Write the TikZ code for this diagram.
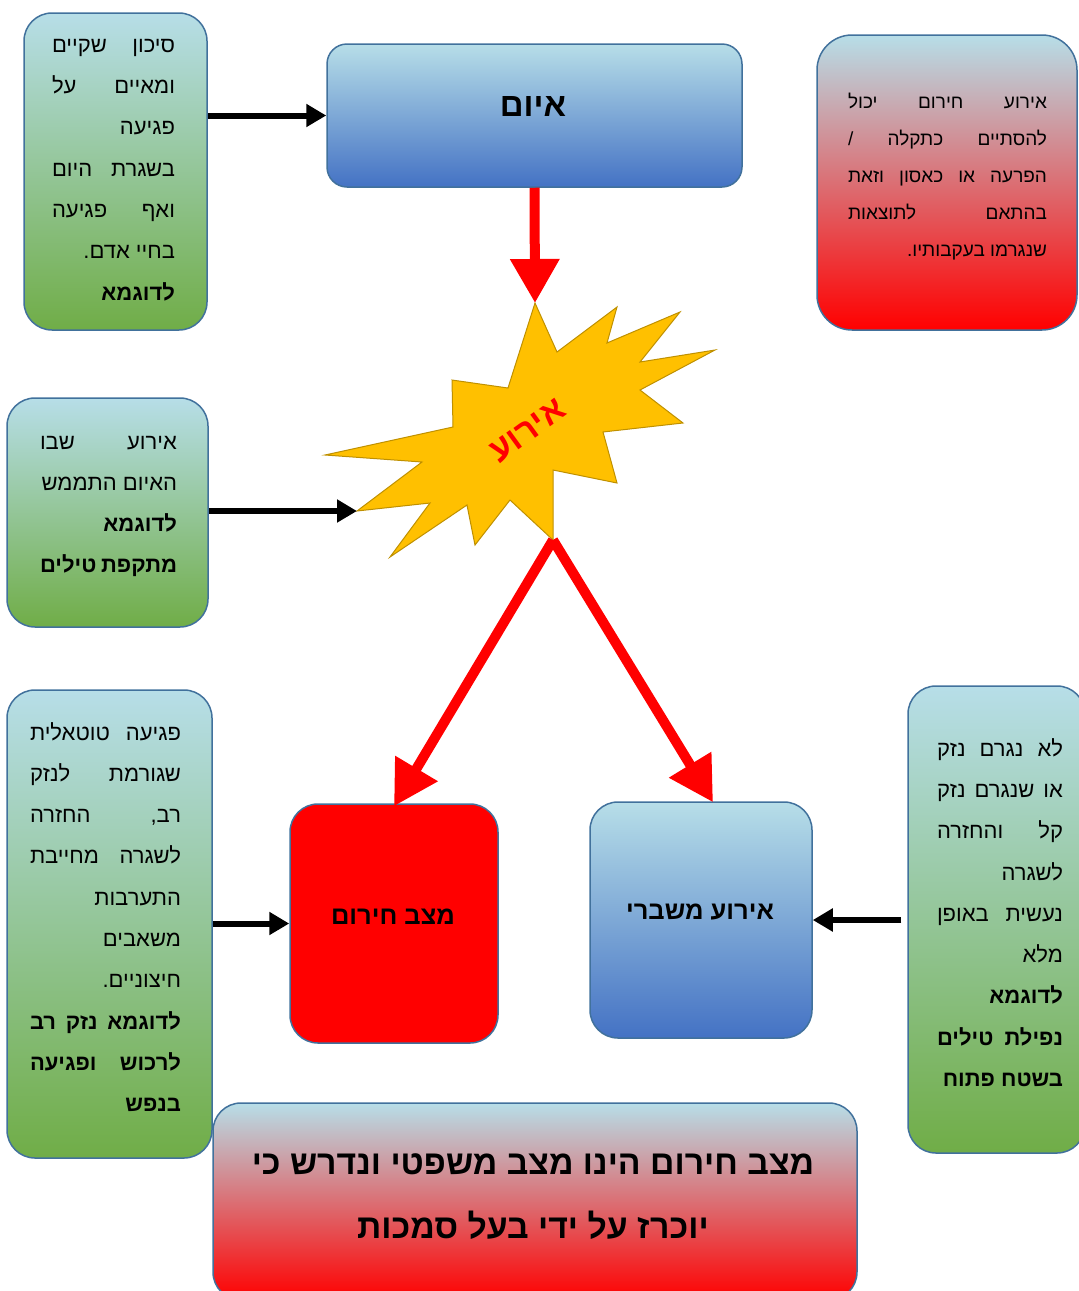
\documentclass[tikz,border=0pt]{standalone}
\usepackage{fontspec}
\usetikzlibrary{arrows.meta}
\TeXXeTstate=1
\newfontfamily\heb[Script=Hebrew]{Liberation Sans}
\newdimen\bw
\newcommand\hl[1]{\hbox to \bw{\hfil\beginR #1\endR}}
\definecolor{lb}{HTML}{B7DEE8}
\definecolor{gr}{HTML}{70AD47}
\definecolor{bl}{HTML}{4472C4}
\definecolor{bd}{HTML}{41719C}
\definecolor{st}{HTML}{FFC000}
\definecolor{stb}{HTML}{BF9000}
\begin{document}
\begin{tikzpicture}[x=1pt,y=-1pt,
  box/.style={draw=bd, line width=1.5pt, rounded corners=28pt, inner sep=0pt},
  gbox/.style={box, top color=lb, bottom color=gr},
  bbox/.style={box, top color=lb, bottom color=bl},
  rbox/.style={box, top color=lb, bottom color=red},
  txt/.style={font=\heb\fontsize{22}{41.3}\selectfont, inner sep=0pt},
  stxt/.style={font=\heb\fontsize{19}{37}\selectfont, inner sep=0pt},
  barrow/.style={line width=6pt, -{Triangle[length=20pt,width=22pt]}},
  rarrow/.style={red, line width=10pt, -{Triangle[length=44pt,width=47pt]}},
  title/.style={font=\heb\bfseries\fontsize{25.5}{30}\selectfont, inner sep=0pt}
]
\useasboundingbox (0,0) rectangle (1079,1291);

% boxes
\node[gbox, minimum width=183pt, minimum height=317pt] (tl) at (115.5,171.5) {};
\node[bbox, rounded corners=20pt, minimum width=415pt, minimum height=143pt] (threat) at (534.5,115.5) {};
\node[rbox, rounded corners=35pt, minimum width=260pt, minimum height=295pt] (tr) at (947,182.5) {};
\node[gbox, minimum width=201pt, minimum height=229pt] (ml) at (107.5,512.5) {};
\node[gbox, minimum width=205pt, minimum height=468pt] (bl) at (109.5,924) {};
\node[gbox, minimum width=177pt, minimum height=467pt] (br) at (996.5,919.5) {};
\node[box, fill=red, minimum width=208pt, minimum height=239pt] (emerg) at (394,923.5) {};
\node[bbox, minimum width=222pt, minimum height=236pt] (crisis) at (701,920) {};
\node[rbox, minimum width=644pt, minimum height=197pt] (bottom) at (535,1201.5) {};

% texts
\node[font=\heb\bfseries\fontsize{33}{36}\selectfont, inner sep=0pt] (threattext) at (533,106)
  {\beginR איום\endR};
\node[title] (emergtext) at (393,917) {\beginR מצב חירום\endR};
\node[title] (crisistext) at (700,912) {\beginR אירוע משברי\endR};
\node[txt] (tltext) at (113.5,170) {\vbox{\bw=123pt
  \hl{סיכון\hfill שקיים}
  \hl{ומאיים\hfill על}
  \hl{פגיעה}
  \hl{בשגרת\hfill היום}
  \hl{ואף\hfill פגיעה}
  \hl{בחיי אדם.}
  \hl{\bfseries לדוגמא}}};
\node[stxt] (trtext) at (947.5,177) {\vbox{\bw=199pt
  \hl{אירוע\hfill חירום\hfill יכול}
  \hl{להסתיים\hfill כתקלה\hfill /}
  \hl{הפרעה\hfill או\hfill כאסון\hfill וזאת}
  \hl{בהתאם\hfill לתוצאות}
  \hl{שנגרמו בעקבותיו.}}};
\node[txt] (mltext) at (108.5,506.5) {\vbox{\bw=137pt
  \hl{אירוע\hfill שבו}
  \hl{האיום התממש}
  \hl{\bfseries לדוגמא}
  \hl{\bfseries מתקפת טילים}}};
\node[txt] (bltext) at (105.5,917) {\vbox{\bw=151pt
  \hl{פגיעה\hfill טוטאלית}
  \hl{שגורמת\hfill לנזק}
  \hl{רב,\hfill החזרה}
  \hl{לשגרה\hfill מחייבת}
  \hl{התערבות}
  \hl{משאבים}
  \hl{חיצוניים.}
  \hl{\bfseries לדוגמא\hfill נזק\hfill רב}
  \hl{\bfseries לרכוש\hfill ופגיעה}
  \hl{\bfseries בנפש}}};
\node[txt] (brtext) at (1000,912.5) {\vbox{\bw=126pt
  \hl{לא\hfill נגרם\hfill נזק}
  \hl{או\hfill שנגרם\hfill נזק}
  \hl{קל\hfill והחזרה}
  \hl{לשגרה}
  \hl{נעשית\hfill באופן}
  \hl{מלא}
  \hl{\bfseries לדוגמא}
  \hl{\bfseries נפילת\hfill טילים}
  \hl{\bfseries בשטח פתוח}}};
\node[font=\heb\bfseries\fontsize{33.8}{64}\selectfont, align=center, inner sep=0pt] (bottomtext) at (533,1197)
  {\beginR מצב חירום הינו מצב משפטי ונדרש כי\endR\\ \beginR יוכרז על ידי בעל סמכות\endR};

% starburst
\coordinate (s1) at (535,303);
\coordinate (s13) at (553,540);
\coordinate (s19) at (357,511);
\filldraw[fill=st, draw=stb, line width=1pt, line join=miter]
  (s1) -- (557,352) -- (617,307) -- (607,343) -- (680,312) -- (640,362) -- (715,350)
  -- (640,390) -- (683,423) -- (603,432) -- (617,483) -- (553,470) -- (s13)
  -- (510,500) -- (475,545) -- (467,505) -- (390,557) -- (430,503) -- (s19)
  -- (422,462) -- (325,455) -- (453,427) -- (452,380) -- (508,388) -- cycle;
\node[rotate=36, text=red, font=\heb\bfseries\fontsize{34}{36}\selectfont, inner sep=0pt] (evt) at (528,431)
  {\beginR אירוע\endR};

% connectors
\draw[barrow] (threat.west -| tl.east) -- (threat.west);
\draw[barrow] (s19 -| ml.east) -- (s19);
\draw[barrow] (emerg.west -| bl.east) -- (emerg.west);
\draw[barrow] ([xshift=-6pt]crisis.east -| br.west) -- (crisis.east);
\draw[rarrow] (threat.south) -- (s1);
\draw[rarrow] (s13) -- ([yshift=-3pt]emerg.north);
\draw[rarrow] (s13) -- ([xshift=12pt,yshift=-1pt]crisis.north);
\end{tikzpicture}
\end{document}
